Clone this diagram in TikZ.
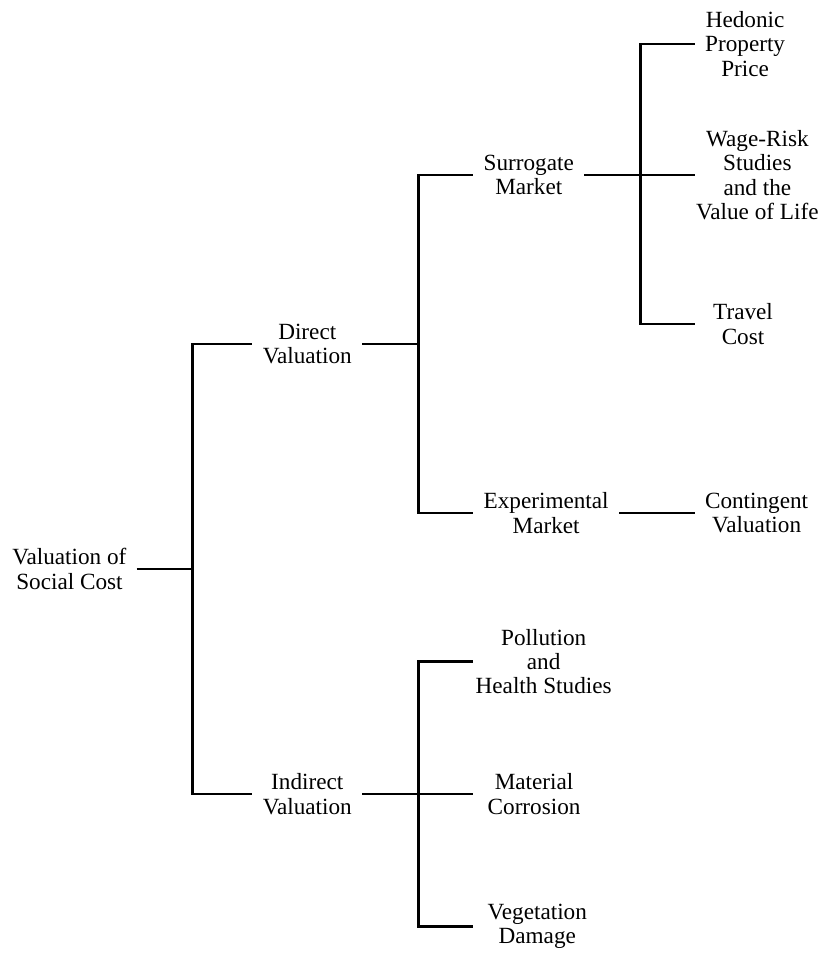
\documentclass[tikz,border=0pt]{standalone}
\usepackage{fontspec}
\setmainfont{Liberation Serif}
\usepackage{tikz,amsmath}

\begin{document}
\begin{tikzpicture}[
		grow'=right,
		every node/.style={anchor=west,align=center,inner xsep=5pt,inner ysep=0pt,font=\fontsize{11.6}{12.2}\selectfont},
		edge from parent/.style={draw,line width=1.45pt},
		edge from parent path={(\tikzparentnode.east) -- ++(28pt,0) |- (\tikzchildnode.west)},
		level 1/.style={level distance=91.5pt,sibling distance=225pt},
		level 2/.style={level distance=83pt},
		level 3/.style={}
		]
		\useasboundingbox (-1pt,284.5pt) rectangle (411pt,-192.5pt);
		\node (vsc) at (0,0) {Valuation of\\Social Cost}
		child {node (direct) {Direct\\Valuation} [sibling distance=169pt]
			child {node (surrogate) {Surrogate\\Market} [sibling distance=70pt]
				child {node[yshift=-4.5pt] (hedonic) {Hedonic\\Property\\Price}}
				child {node[inner xsep=0.5pt] (wagerisk) {Wage-Risk\\Studies\\and the\\Value of Life}}
				child {node[yshift=-4.5pt,inner xsep=9pt] (travel) {Travel\\Cost}}
			}
			child {node (experimental) {Experimental\\Market} [level distance=74.25pt]
				child {node (contingent) {Contingent\\Valuation}}
			}
		}
		child {node (indirect) {Indirect\\Valuation} [sibling distance=66.25pt]
			child {node[inner xsep=1pt] (pollution) {Pollution\\and\\Health Studies}}
			child {node[inner xsep=7pt] (material) {Material\\Corrosion}}
			child {node[inner xsep=7pt] (vegetation) {Vegetation\\Damage}}
		}
		;
	\end{tikzpicture}
\end{document}
